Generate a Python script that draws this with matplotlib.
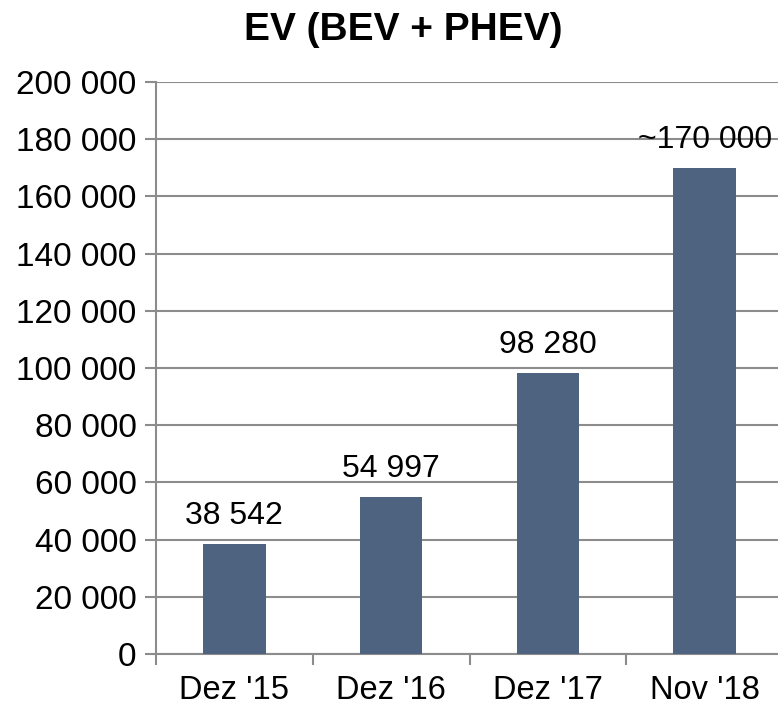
import matplotlib.pyplot as plt
from matplotlib.ticker import FuncFormatter, FixedLocator

# ------------ data ------------
categories = ["Dez '15", "Dez '16", "Dez '17", "Nov '18"]
values = [38542, 54997, 98280, 170000]
labels = ["38 542", "54 997", "98 280", "~170 000"]

# ------------ plotting ------------
plt.rcParams['font.family'] = ['Liberation Sans', 'DejaVu Sans']

fig = plt.figure(figsize=(7.78, 7.07), dpi=100)
ax = fig.add_axes([156 / 778, 1 - 654 / 707, (783 - 156) / 778, (654 - 82) / 707])

BAR_COLOR = '#4e6380'
GRID_COLOR = '#8c8c8c'

x = list(range(len(categories)))
ax.bar(x, values, width=0.4, color=BAR_COLOR, zorder=3)

for xi, v, lab in zip(x, values, labels):
    ax.annotate(lab, (xi, v), xytext=(0, 9), textcoords='offset points',
                ha='center', va='bottom', fontsize=23, zorder=4)

ax.set_xlim(-0.5, len(categories) - 0.5)
ax.set_ylim(0, 200000)
ax.set_yticks(range(0, 200001, 20000))
ax.yaxis.set_major_formatter(FuncFormatter(lambda v, p: f"{int(v):,}".replace(',', ' ')))
ax.grid(axis='y', color=GRID_COLOR, linewidth=1.5, zorder=0)

ax.set_xticks(x)
ax.set_xticklabels(categories)
ax.xaxis.set_minor_locator(FixedLocator([i - 0.5 for i in range(len(categories) + 1)]))
ax.tick_params(axis='x', which='major', length=0, labelsize=23.5, pad=15)
ax.tick_params(axis='x', which='minor', length=8, width=1.5, color=GRID_COLOR)
ax.tick_params(axis='y', length=8, width=1.5, color=GRID_COLOR, labelsize=24, pad=6)

for side in ['top', 'right']:
    ax.spines[side].set_visible(False)
for side in ['left', 'bottom']:
    ax.spines[side].set_color(GRID_COLOR)
    ax.spines[side].set_linewidth(1.5)

fig.text(0.518, 0.958, "EV (BEV + PHEV)", ha='center', va='center',
         fontsize=28, fontweight='bold')

fig.savefig('out.png', dpi=100)
